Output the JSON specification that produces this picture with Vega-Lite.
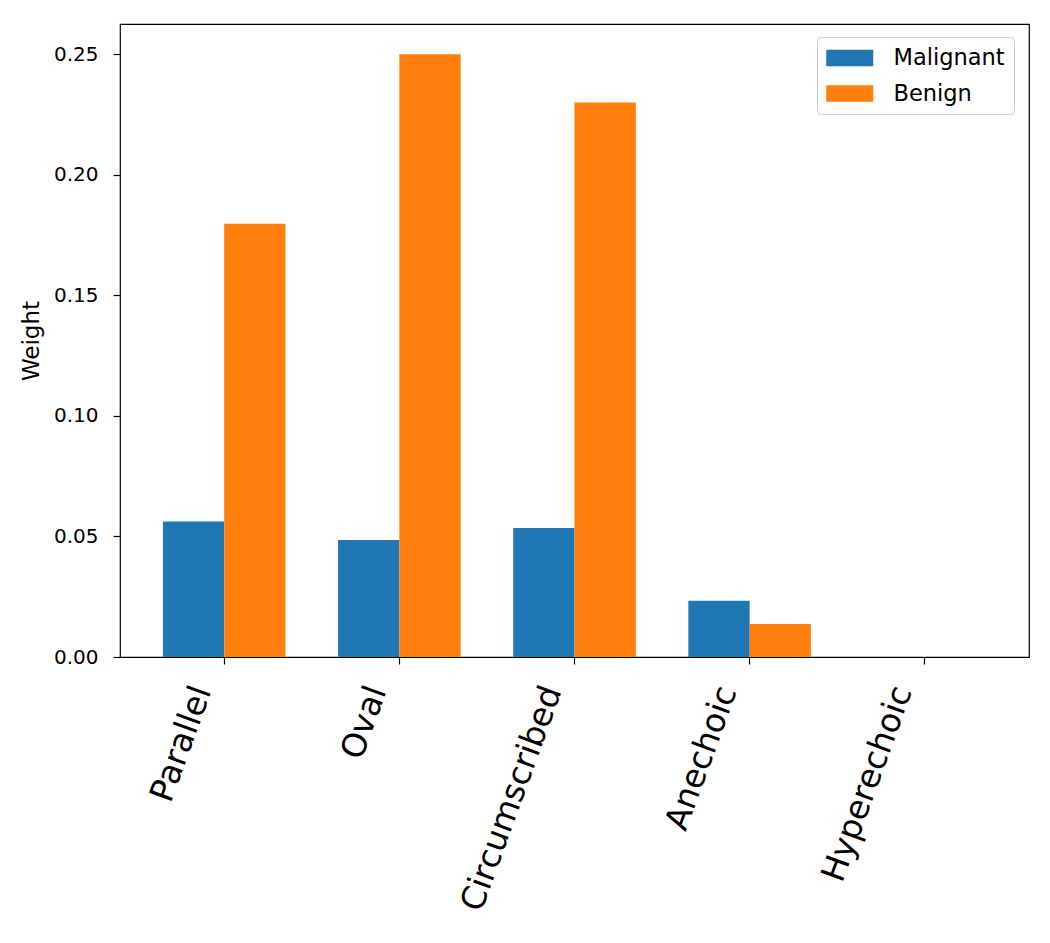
{
  "$schema": "https://vega.github.io/schema/vega-lite/v6.json",
  "autosize": {"type": "none"},
  "padding": {"left": 120, "top": 24, "right": 21, "bottom": 286},
  "width": 909,
  "height": 633,
  "config": {
    "font": "DejaVu Sans",
    "view": {"stroke": "#000000", "strokeWidth": 1.2},
    "axis": {"labelColor": "#000000", "titleColor": "#000000", "tickColor": "#000000", "domain": false, "grid": false}
  },
  "data": {
    "values": [
      {"feature": "Parallel", "class": "Malignant", "weight": 0.0562},
      {"feature": "Parallel", "class": "Benign", "weight": 0.1797},
      {"feature": "Oval", "class": "Malignant", "weight": 0.0485},
      {"feature": "Oval", "class": "Benign", "weight": 0.2500},
      {"feature": "Circumscribed", "class": "Malignant", "weight": 0.0535},
      {"feature": "Circumscribed", "class": "Benign", "weight": 0.2299},
      {"feature": "Anechoic", "class": "Malignant", "weight": 0.0233},
      {"feature": "Anechoic", "class": "Benign", "weight": 0.0137},
      {"feature": "Hyperechoic", "class": "Malignant", "weight": 0.0},
      {"feature": "Hyperechoic", "class": "Benign", "weight": 0.0}
    ]
  },
  "mark": {"type": "bar"},
  "encoding": {
    "x": {
      "field": "feature",
      "type": "nominal",
      "sort": ["Parallel", "Oval", "Circumscribed", "Anechoic", "Hyperechoic"],
      "scale": {"paddingInner": 0.3, "paddingOuter": 0.245},
      "axis": {
        "title": null,
        "labelAngle": -70,
        "labelAlign": "right",
        "labelBaseline": "middle",
        "labelFontSize": 33,
        "labelLimit": 0,
        "labelOffset": -22,
        "labelPadding": 23,
        "tickSize": 7,
        "tickWidth": 1.2
      }
    },
    "xOffset": {"field": "class", "type": "nominal", "sort": ["Malignant", "Benign"]},
    "y": {
      "field": "weight",
      "type": "quantitative",
      "scale": {"domain": [0, 0.2625], "nice": false, "zero": true},
      "axis": {
        "title": "Weight",
        "titleFontSize": 23,
        "titleFontWeight": "normal",
        "titlePadding": 10,
        "values": [0, 0.05, 0.1, 0.15, 0.2, 0.25],
        "format": ".2f",
        "labelFontSize": 20,
        "labelPadding": 15,
        "tickSize": 7,
        "tickWidth": 1.2
      }
    },
    "color": {
      "field": "class",
      "type": "nominal",
      "sort": ["Malignant", "Benign"],
      "scale": {"domain": ["Malignant", "Benign"], "range": ["#1f77b4", "#ff7f0e"]},
      "legend": {
        "title": null,
        "orient": "none",
        "legendX": 697,
        "legendY": 13,
        "symbolType": "M-1,-0.7H3V0.7H-1Z",
        "symbolSize": 552,
        "symbolStrokeWidth": 0,
        "symbolOpacity": 1,
        "labelFontSize": 22.5,
        "labelColor": "#000000",
        "labelOffset": 43.5,
        "rowPadding": 11.5,
        "padding": 9,
        "strokeColor": "#cccccc",
        "fillColor": "#ffffff",
        "cornerRadius": 4
      }
    }
  }
}
